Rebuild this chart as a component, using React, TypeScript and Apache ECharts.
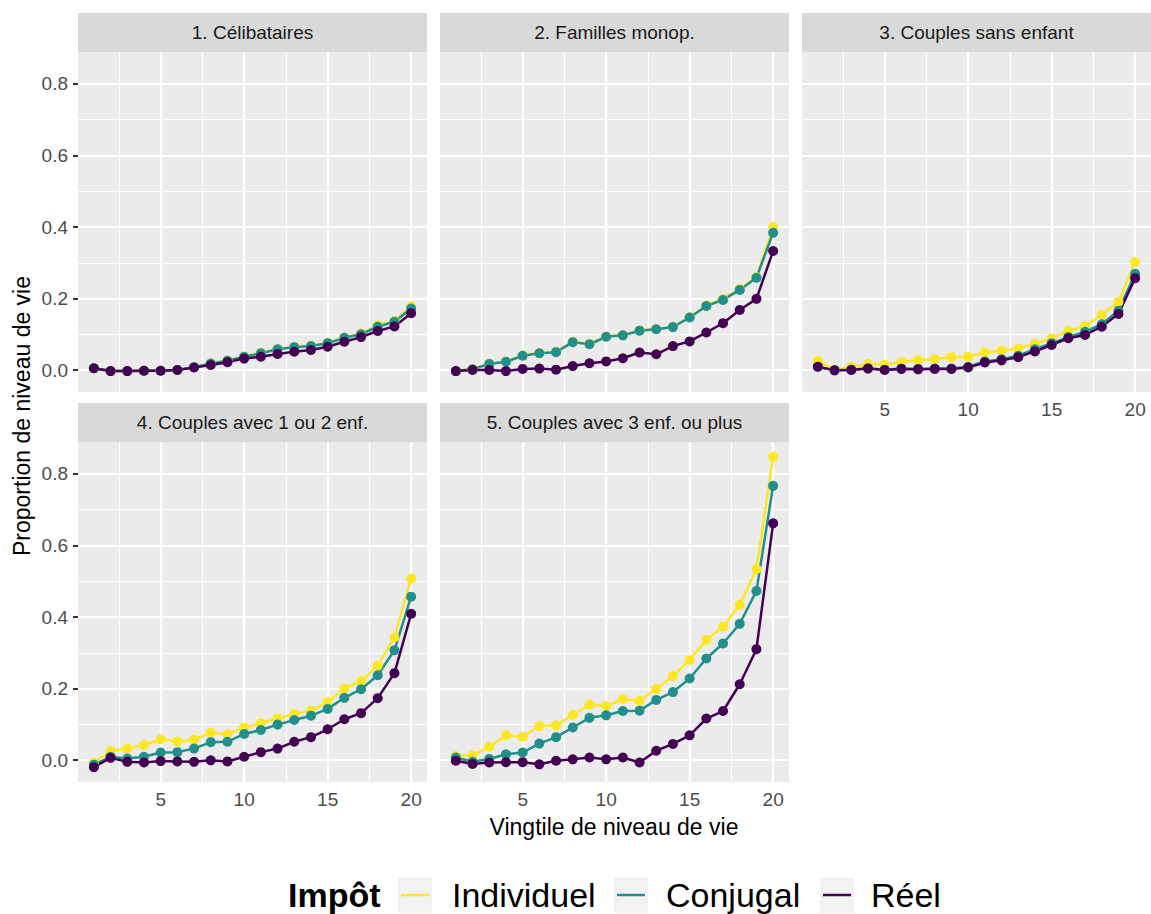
import React, { useEffect, useRef } from "react";
import * as echarts from "echarts";

const vingtiles = [1, 2, 3, 4, 5, 6, 7, 8, 9, 10, 11, 12, 13, 14, 15, 16, 17, 18, 19, 20];
const panelTitles = [
  "1. Célibataires",
  "2. Familles monop.",
  "3. Couples sans enfant",
  "4. Couples avec 1 ou 2 enf.",
  "5. Couples avec 3 enf. ou plus",
];
const seriesNames = ["Individuel", "Conjugal", "Réel"];
const seriesColors = ["#FDE725", "#21908C", "#440154"];
const xTicks = [5, 10, 15, 20];
const yTicks = [0, 0.2, 0.4, 0.6, 0.8];
const xMinor = [2.5, 7.5, 12.5, 17.5];
const yMinor = [0.1, 0.3, 0.5, 0.7];

// Panel 1
const ind1 = [0.005, -0.003, -0.003, -0.002, -0.002, 0.0, 0.008, 0.018, 0.027, 0.038, 0.048, 0.059, 0.065, 0.068, 0.076, 0.091, 0.102, 0.125, 0.138, 0.178];
const conj1 = [0.005, -0.003, -0.003, -0.002, -0.002, 0.0, 0.008, 0.018, 0.026, 0.037, 0.047, 0.058, 0.064, 0.067, 0.075, 0.09, 0.1, 0.121, 0.135, 0.172];
const reel1 = [0.005, -0.003, -0.003, -0.002, -0.002, 0.0, 0.007, 0.014, 0.022, 0.032, 0.037, 0.045, 0.051, 0.056, 0.065, 0.079, 0.092, 0.109, 0.122, 0.159];
// Panel 2
const ind2 = [-0.002, 0.003, 0.018, 0.024, 0.041, 0.048, 0.051, 0.079, 0.073, 0.094, 0.098, 0.111, 0.115, 0.121, 0.148, 0.181, 0.2, 0.227, 0.26, 0.4];
const conj2 = [-0.003, 0.002, 0.017, 0.023, 0.04, 0.047, 0.05, 0.078, 0.072, 0.093, 0.097, 0.11, 0.114, 0.12, 0.147, 0.179, 0.196, 0.224, 0.258, 0.384];
const reel2 = [-0.003, 0.0, 0.0, -0.003, 0.003, 0.004, 0.001, 0.011, 0.019, 0.024, 0.033, 0.049, 0.044, 0.067, 0.08, 0.105, 0.131, 0.168, 0.199, 0.333];
// Panel 3
const ind3 = [0.026, 0.001, 0.009, 0.017, 0.015, 0.022, 0.028, 0.03, 0.036, 0.037, 0.049, 0.054, 0.06, 0.073, 0.089, 0.109, 0.123, 0.154, 0.19, 0.302];
const conj3 = [0.009, -0.001, 0.001, 0.005, 0.001, 0.004, 0.003, 0.004, 0.004, 0.009, 0.024, 0.03, 0.04, 0.058, 0.075, 0.092, 0.107, 0.128, 0.166, 0.269];
const reel3 = [0.009, -0.001, 0.0, 0.004, 0.0, 0.003, 0.002, 0.003, 0.003, 0.007, 0.021, 0.027, 0.036, 0.052, 0.07, 0.089, 0.098, 0.121, 0.157, 0.257];
// Panel 4
const ind4 = [-0.007, 0.025, 0.032, 0.042, 0.058, 0.052, 0.057, 0.077, 0.072, 0.091, 0.103, 0.116, 0.129, 0.138, 0.162, 0.2, 0.221, 0.264, 0.343, 0.508];
const conj4 = [-0.013, 0.009, 0.004, 0.009, 0.021, 0.022, 0.032, 0.05, 0.051, 0.073, 0.084, 0.099, 0.112, 0.124, 0.143, 0.174, 0.198, 0.237, 0.307, 0.457];
const reel4 = [-0.02, 0.006, -0.005, -0.007, -0.003, -0.004, -0.005, -0.001, -0.004, 0.009, 0.022, 0.032, 0.051, 0.064, 0.086, 0.114, 0.131, 0.173, 0.243, 0.409];
// Panel 5
const ind5 = [0.011, 0.013, 0.037, 0.069, 0.065, 0.095, 0.097, 0.126, 0.155, 0.151, 0.17, 0.166, 0.199, 0.235, 0.28, 0.336, 0.373, 0.434, 0.534, 0.848];
const conj5 = [0.007, -0.005, 0.003, 0.016, 0.021, 0.046, 0.064, 0.091, 0.118, 0.125, 0.137, 0.138, 0.168, 0.19, 0.228, 0.284, 0.326, 0.381, 0.473, 0.767];
const reel5 = [-0.002, -0.011, -0.007, -0.006, -0.006, -0.012, -0.002, 0.002, 0.007, 0.002, 0.007, -0.007, 0.026, 0.045, 0.069, 0.116, 0.137, 0.212, 0.31, 0.662];

const panelData = [
  [ind1, conj1, reel1],
  [ind2, conj2, reel2],
  [ind3, conj3, reel3],
  [ind4, conj4, reel4],
  [ind5, conj5, reel5],
];

const FONT = "'Liberation Sans', Arial, Helvetica, sans-serif";

export default function App() {
  const ref = useRef<HTMLDivElement>(null);

  useEffect(() => {
    document.body.style.margin = "0";
    if (!ref.current) return;
    const chart = echarts.init(ref.current, undefined, { renderer: "svg" });

    const colLeft = [78, 440, 802];
    const rowTop = [52, 442];
    const pw = 349;
    const ph = 340;
    const stripH = 39;
    const xMin = 0.05, xMax = 20.95;
    const yMin = -0.0615, yMax = 0.8895;

    const pos = [
      [0, 0], [1, 0], [2, 0], [0, 1], [1, 1],
    ];
    const showX = [false, false, true, true, true];
    const showY = [true, false, false, true, false];

    const grids: any[] = [];
    const xAxes: any[] = [];
    const yAxes: any[] = [];
    const series: any[] = [];
    const graphics: any[] = [];

    pos.forEach(([c, r], i) => {
      const left = colLeft[c];
      const top = rowTop[r];
      grids.push({
        left, top, width: pw, height: ph,
        show: true, backgroundColor: "#EBEBEB", borderWidth: 0,
        containLabel: false,
      });
      xAxes.push({
        type: "value", gridIndex: i, min: xMin, max: xMax,
        axisLine: { show: false },
        splitLine: { show: false },
        axisTick: {
          show: showX[i], customValues: xTicks, length: 5,
          lineStyle: { color: "#333333", width: 2 },
        },
        axisLabel: {
          show: showX[i], customValues: xTicks, margin: 8,
          color: "#4D4D4D", fontSize: 19, fontFamily: FONT,
        },
      });
      yAxes.push({
        type: "value", gridIndex: i, min: yMin, max: yMax,
        axisLine: { show: false },
        splitLine: { show: false },
        axisTick: {
          show: showY[i], customValues: yTicks, length: 5,
          lineStyle: { color: "#333333", width: 2 },
        },
        axisLabel: {
          show: showY[i], customValues: yTicks, margin: 10,
          color: "#4D4D4D", fontSize: 19, fontFamily: FONT,
          formatter: (v: number) => v.toFixed(1),
        },
      });

      const ml: any[] = [];
      xMinor.forEach((v) => ml.push({ xAxis: v, lineStyle: { color: "#FFFFFF", width: 1.1, type: "solid" } }));
      yMinor.forEach((v) => ml.push({ yAxis: v, lineStyle: { color: "#FFFFFF", width: 1.1, type: "solid" } }));
      xTicks.forEach((v) => ml.push({ xAxis: v, lineStyle: { color: "#FFFFFF", width: 2.2, type: "solid" } }));
      yTicks.forEach((v) => ml.push({ yAxis: v, lineStyle: { color: "#FFFFFF", width: 2.2, type: "solid" } }));
      series.push({
        type: "line", name: "grid" + i, xAxisIndex: i, yAxisIndex: i,
        data: [], silent: true, z: 1,
        markLine: {
          silent: true, symbol: ["none", "none"], z: 1,
          label: { show: false }, emphasis: { disabled: true },
          animation: false, data: ml,
        },
      });

      const d = panelData[i];
      d.forEach((vals, k) => {
        series.push({
          type: "line", name: seriesNames[k], xAxisIndex: i, yAxisIndex: i,
          data: vingtiles.map((x, j) => [x, vals[j]]),
          showSymbol: false, symbol: "none", z: 3,
          lineStyle: { color: seriesColors[k], width: 2.5 },
          itemStyle: { color: seriesColors[k] },
          emphasis: { disabled: true }, silent: true,
        });
      });
      d.forEach((vals, k) => {
        series.push({
          type: "scatter", name: seriesNames[k], xAxisIndex: i, yAxisIndex: i,
          data: vingtiles.map((x, j) => [x, vals[j]]),
          symbolSize: 10, z: 4,
          itemStyle: { color: seriesColors[k], opacity: 1 },
          emphasis: { disabled: true }, silent: true,
        });
      });

      graphics.push({
        type: "rect", shape: { x: left, y: top - stripH, width: pw, height: stripH },
        style: { fill: "#D9D9D9" }, silent: true,
      });
      graphics.push({
        type: "text", x: left + pw / 2, y: top - stripH / 2,
        style: {
          text: panelTitles[i], fill: "#1A1A1A", fontSize: 19, fontFamily: FONT,
          align: "center", verticalAlign: "middle",
        },
        silent: true,
      });
    });

    // Axis titles
    graphics.push({
      type: "text", x: 614, y: 827,
      style: {
        text: "Vingtile de niveau de vie", fill: "#000000", fontSize: 23, fontFamily: FONT,
        align: "center", verticalAlign: "middle",
      },
    });
    graphics.push({
      type: "text", x: 22, y: 416, rotation: Math.PI / 2,
      style: {
        text: "Proportion de niveau de vie", fill: "#000000", fontSize: 23, fontFamily: FONT,
        align: "center", verticalAlign: "middle",
      },
    });

    // Legend
    const legY = 895;
    graphics.push({
      type: "text", x: 288, y: legY,
      style: { text: "Impôt", fill: "#000000", fontSize: 34, fontWeight: "bold", fontFamily: FONT, align: "left", verticalAlign: "middle" },
    });
    const keyX = [398, 614, 820];
    const labX = [452, 666, 871];
    seriesNames.forEach((n, k) => {
      graphics.push({
        type: "rect", shape: { x: keyX[k], y: legY - 17, width: 34, height: 35 },
        style: { fill: "#F2F2F2" },
      });
      graphics.push({
        type: "line", shape: { x1: keyX[k] + 3, y1: legY, x2: keyX[k] + 31, y2: legY },
        style: { stroke: seriesColors[k], lineWidth: 2.5 },
      });
      graphics.push({
        type: "text", x: labX[k], y: legY,
        style: { text: n, fill: "#000000", fontSize: 34, fontFamily: FONT, align: "left", verticalAlign: "middle" },
      });
    });

    chart.setOption({
      animation: false,
      backgroundColor: "#FFFFFF",
      grid: grids,
      xAxis: xAxes,
      yAxis: yAxes,
      series,
      graphic: graphics,
    });

    return () => chart.dispose();
  }, []);

  return <div ref={ref} style={{ width: 1151, height: 914 }} />;
}
